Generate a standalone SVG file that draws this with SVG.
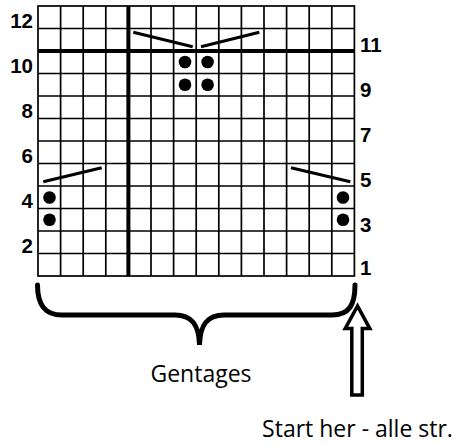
<svg xmlns="http://www.w3.org/2000/svg" width="456" height="446" viewBox="0 0 456 446">
<style>
.grid{stroke:#000;stroke-width:1.7;fill:none}
.thick{stroke:#000;stroke-width:4;fill:none}
.dec{stroke:#000;stroke-width:3;fill:none;stroke-linecap:butt}
.dot{fill:#000}
.num{font-family:"Liberation Sans",Arial,sans-serif;font-weight:bold;font-size:20.5px;fill:#000}
.lbl{font-family:"Open Sans","Noto Sans",sans-serif;font-size:23px;fill:#000}
.brace{stroke:#000;stroke-width:5;fill:none;stroke-linecap:round}
.arrow{stroke:#000;stroke-width:3.5;fill:#fff;stroke-linejoin:miter}
</style>
<rect width="456" height="446" fill="#fff"/>
<g id="grid">
<rect x="38" y="6" width="316.4" height="270" class="grid"/>
<path class="grid" d="M60.6 6V276M83.2 6V276M105.8 6V276M151 6V276M173.6 6V276M196.2 6V276M218.8 6V276M241.4 6V276M264 6V276M286.6 6V276M309.2 6V276M331.8 6V276"/>
<path class="grid" d="M38 28.5H354.4M38 73.5H354.4M38 96H354.4M38 118.5H354.4M38 141H354.4M38 163.5H354.4M38 186H354.4M38 208.5H354.4M38 231H354.4M38 253.5H354.4"/>
<path class="thick" d="M128.4 6V276M38 51H354.4"/>
</g>
<g id="symbols">
<circle class="dot" cx="185" cy="62" r="6.3"/>
<circle class="dot" cx="207.6" cy="62" r="6.3"/>
<circle class="dot" cx="185" cy="84.8" r="6.3"/>
<circle class="dot" cx="207.6" cy="84.8" r="6.3"/>
<circle class="dot" cx="49.5" cy="197.5" r="6.3"/>
<circle class="dot" cx="49.5" cy="219.8" r="6.3"/>
<circle class="dot" cx="343" cy="197.5" r="6.3"/>
<circle class="dot" cx="343" cy="219.8" r="6.3"/>
<path class="dec" d="M133.3 32.3L192.7 46.7M201 46.7L259.3 32.3M43.3 181.7L101.7 167.7M291 167.7L350.3 181.7"/>
</g>
<g id="row-numbers">
<text class="num" x="33" y="28.3" text-anchor="end">12</text>
<text class="num" x="33" y="72.5" text-anchor="end">10</text>
<text class="num" x="33" y="118" text-anchor="end">8</text>
<text class="num" x="33" y="163" text-anchor="end">6</text>
<text class="num" x="33" y="208" text-anchor="end">4</text>
<text class="num" x="33" y="253" text-anchor="end">2</text>
<text class="num" x="360" y="52">11</text>
<text class="num" x="360" y="97">9</text>
<text class="num" x="360" y="142">7</text>
<text class="num" x="360" y="187">5</text>
<text class="num" x="360" y="232">3</text>
<text class="num" x="360" y="275">1</text>
</g>
<g id="brace">
<path class="brace" d="M37.5 285C37.5 305 45 315 62 315L175 315C192 315 199 325 199.5 345C200 325 207 315 224 315L332 315C349 315 355 305 355 285"/>
<text class="lbl" x="201" y="381.7" text-anchor="middle">Gentages</text>
</g>
<g id="start-arrow">
<path class="arrow" d="M357.5 306L345.2 328.6H351.8V395H362.3V328.6H369.8Z"/>
<text class="lbl" x="357.5" y="436.7" text-anchor="middle">Start her - alle str.</text>
</g>
</svg>
